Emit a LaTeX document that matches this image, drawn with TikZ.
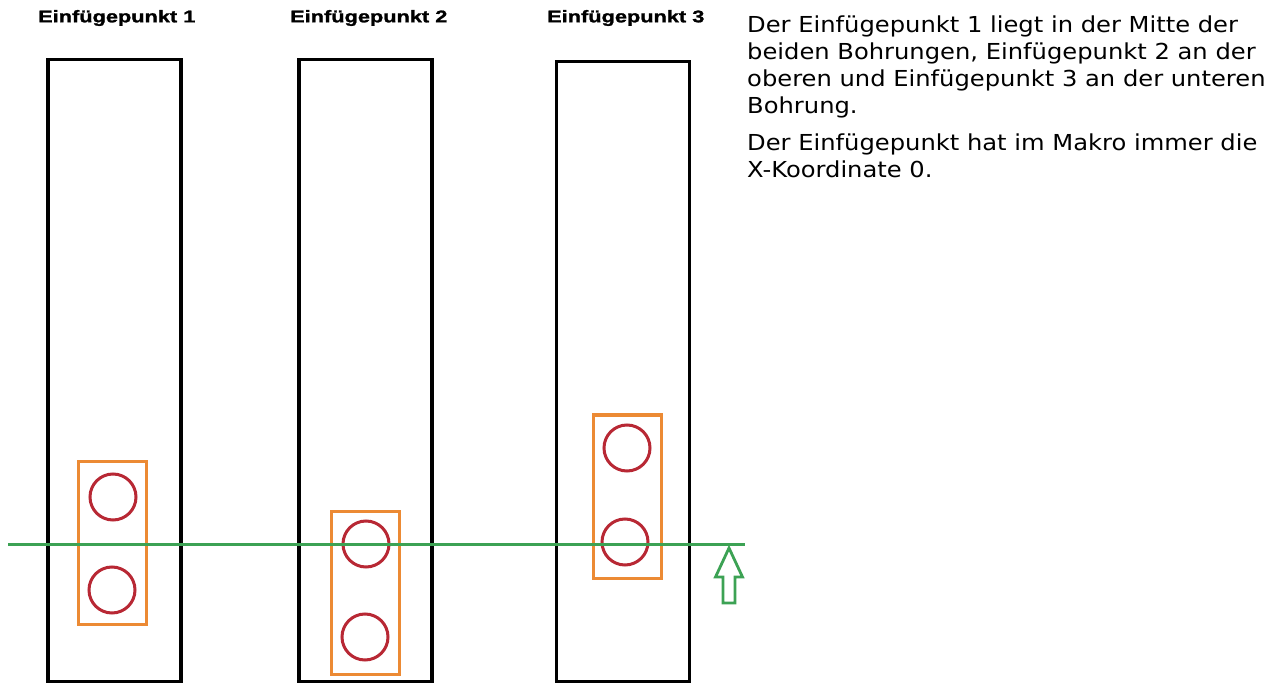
\documentclass[tikz,border=0pt]{standalone}
\usepackage{fontspec}
\setmainfont{DejaVu Sans}
\newfontfamily\headfont{Liberation Sans}[BoldFeatures={FakeBold=1.2}]
\newfontfamily\notefont{DejaVu Sans}[FakeStretch=1.10]
\definecolor{platecol}{RGB}{0,0,0}
\definecolor{framecol}{RGB}{236,138,52}
\definecolor{holecol}{RGB}{184,40,52}
\definecolor{axiscol}{RGB}{60,162,84}
\newcommand{\headtext}[1]{\scalebox{1.28}[1]{#1}}
\begin{document}
\begin{tikzpicture}[x=1pt,y=-1pt,
  plate/.style={draw=platecol,line width=3.5pt,inner sep=0pt,minimum width=133pt},
  frame/.style={draw=framecol,line width=3pt,inner sep=0pt,minimum width=68pt,minimum height=163pt},
  hole/.style={circle,draw=holecol,line width=3pt,inner sep=0pt,minimum size=46pt},
  axis/.style={draw=axiscol,line width=3pt},
  headline/.style={font=\headfont\bfseries\fontsize{17}{19}\selectfont,inner sep=0pt,anchor=west},
  note/.style={font=\notefont\fontsize{22}{26.7}\selectfont,inner sep=0pt,align=left,anchor=north west}]
\useasboundingbox (0,0) rectangle (1269,684);
\fill[white] (0,0) rectangle (1269,684);

% plates
\node[plate,minimum height=622pt] (p1) at (114.5,370.5) {};
\node[plate,minimum height=622pt] (p2) at (365.5,370.5) {};
\node[plate,minimum height=620pt] (p3) at (623,371.5) {};

% headings
\node[headline] (h1) at (38,18) {\headtext{Einfügepunkt 1}};
\node[headline] (h2) at (290,18) {\headtext{Einfügepunkt 2}};
\node[headline] (h3) at (547,18) {\headtext{Einfügepunkt 3}};

% hole pairs with their frames
\node[frame] (f1) at (112.5,543) {};
\node[hole] (c1a) at (113,497) {};
\node[hole] (c1b) at (112,590) {};

\node[frame] (f2) at (365.5,593) {};
\node[hole] (c2a) at (366,544) {};
\node[hole] (c2b) at (365,637) {};

\node[frame] (f3) at (627,496.5) {};
\node[hole] (c3a) at (627,448) {};
\node[hole] (c3b) at (625,542) {};

% insertion axis
\coordinate (a0) at (8,544);
\coordinate (a1) at (745,544);
\draw[axis] (a0) -- (a1);

% hollow arrow pointing at the axis
\coordinate (tip) at (729,548);
\draw[axis,line width=2.8pt,line join=miter]
  (tip) -- (742.5,577) -- (735,577) -- (735,603) -- (723,603) -- (723,577) -- (715.5,577) -- cycle;

% explanation
\node[note] (t1) at (747,16) {Der Einfügepunkt 1 liegt in der Mitte der\\
beiden Bohrungen, Einfügepunkt 2 an der\\
oberen und Einfügepunkt 3 an der unteren\\
Bohrung.\\[11pt]
Der Einfügepunkt hat im Makro immer die\\
X-Koordinate 0.};
\end{tikzpicture}
\end{document}
